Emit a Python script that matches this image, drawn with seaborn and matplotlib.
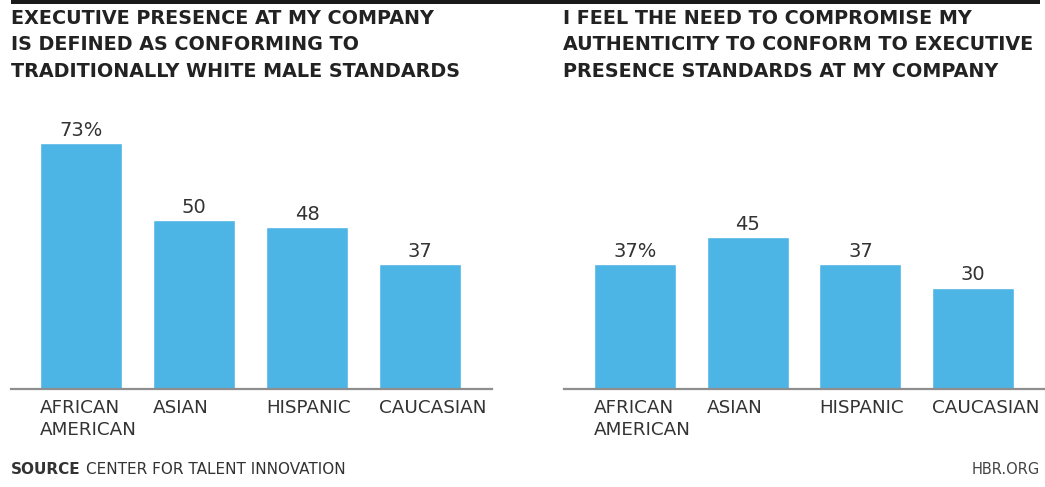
import matplotlib
matplotlib.use("Agg")
import matplotlib.pyplot as plt
import seaborn as sns
import pandas as pd
from matplotlib.patches import Rectangle
from matplotlib.transforms import ScaledTranslation

# ---- data ----
categories = ["AFRICAN\nAMERICAN", "ASIAN", "HISPANIC", "CAUCASIAN"]
left_values = [73, 50, 48, 37]
right_values = [37, 45, 37, 30]
left_labels = ["73%", "50", "48", "37"]
right_labels = ["37%", "45", "37", "30"]
left_title = ["EXECUTIVE PRESENCE AT MY COMPANY",
              "IS DEFINED AS CONFORMING TO",
              "TRADITIONALLY WHITE MALE STANDARDS"]
right_title = ["I FEEL THE NEED TO COMPROMISE MY",
               "AUTHENTICITY TO CONFORM TO EXECUTIVE",
               "PRESENCE STANDARDS AT MY COMPANY"]
source_bold = "SOURCE"
source_rest = "CENTER FOR TALENT INNOVATION"
credit = "HBR.ORG"

BAR = "#4DB4E6"
TXT = "#333333"

sns.set_style("white")
plt.rcParams["font.family"] = ["DejaVu Sans"]

W, H = 1045, 487
fig = plt.figure(figsize=(W / 100, H / 100), dpi=100)


def px_axes(x0, x1, ybot, ytop):
    return fig.add_axes([x0 / W, 1 - ybot / H, (x1 - x0) / W, (ybot - ytop) / H])


def panel(ax, values, labels, xlim):
    df = pd.DataFrame({"group": categories, "value": values})
    sns.barplot(data=df, x="group", y="value", order=categories, color=BAR,
                saturation=1, width=0.726, ax=ax)
    ax.set_xlim(*xlim)
    ax.set_ylim(0, 80)
    ax.set_xlabel("")
    ax.set_ylabel("")
    ax.set_yticks([])
    for s in ["top", "left", "right"]:
        ax.spines[s].set_visible(False)
    ax.spines["bottom"].set_color("#8e8e8e")
    ax.spines["bottom"].set_linewidth(1.6)
    ax.tick_params(axis="x", length=0, pad=7)
    ax.set_xticks(range(len(categories)))
    ax.set_xticklabels(categories, ha="left", va="top", fontsize=13.2,
                       color=TXT, linespacing=1.3)
    off = ScaledTranslation(-41 / 100, 0, fig.dpi_scale_trans)
    for lab in ax.get_xticklabels():
        lab.set_transform(lab.get_transform() + off)
    ax.bar_label(ax.containers[0], labels=labels, padding=2.5, fontsize=14,
                 color=TXT)
    ax.patch.set_alpha(0)


axL = px_axes(11, 492, 389, 119.4)
panel(axL, left_values, left_labels, (-0.619, 3.637))
axR = px_axes(564, 1045, 389, 119.4)
panel(axR, right_values, right_labels, (-0.630, 3.638))

# top black rule
fig.add_artist(Rectangle((11 / W, 1 - 4 / H), (1040 - 11) / W, 4 / H,
                         transform=fig.transFigure, color="#1a1a1a", lw=0))

# titles
for x0, lines in [(11, left_title), (563, right_title)]:
    for i, line in enumerate(lines):
        fig.text(x0 / W, 1 - (18.5 + 26.5 * i) / H, line, fontsize=13.75,
                 fontweight="bold", color="#222222", va="center", ha="left")

# footer
t1 = fig.text(11 / W, 1 - 470 / H, source_bold, fontsize=11, fontweight="bold",
              color=TXT, va="center", ha="left")
fig.canvas.draw()
bb = t1.get_window_extent(fig.canvas.get_renderer())
fig.text((bb.x1 + 5) / W, 1 - 470 / H, source_rest, fontsize=11,
         color=TXT, va="center", ha="left")
fig.text(1040 / W, 1 - 470 / H, credit, fontsize=10.5, color="#444444",
         va="center", ha="right")

fig.savefig("out.png", dpi=100)
